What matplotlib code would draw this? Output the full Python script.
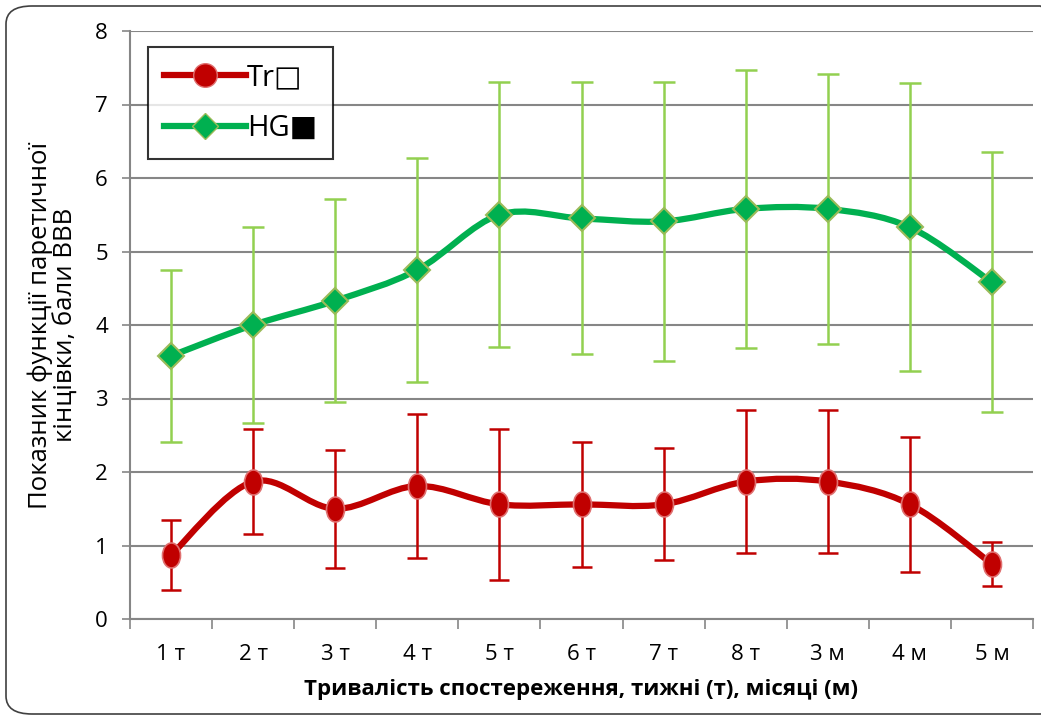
import matplotlib
matplotlib.use("Agg")
import matplotlib.pyplot as plt, numpy as np
from matplotlib.path import Path
from matplotlib.patches import PathPatch, FancyBboxPatch

# Data
labels = ["1 т", "2 т", "3 т", "4 т", "5 т", "6 т", "7 т", "8 т", "3 м", "4 м", "5 м"]
tr_mean = [0.87, 1.87, 1.50, 1.81, 1.56, 1.56, 1.56, 1.87, 1.87, 1.56, 0.75]
tr_err = [0.48, 0.72, 0.80, 0.98, 1.03, 0.85, 0.76, 0.97, 0.97, 0.92, 0.30]
hg_mean = [3.58, 4.00, 4.33, 4.75, 5.50, 5.45, 5.41, 5.58, 5.58, 5.33, 4.58]
hg_err = [1.17, 1.34, 1.38, 1.52, 1.80, 1.85, 1.90, 1.89, 1.84, 1.96, 1.77]

plt.rcParams['font.family'] = ['Open Sans', 'DejaVu Sans']

def smooth_path(x, y):
    # Excel-style smoothed line as cubic bezier segments
    pts = np.column_stack([x, y]).astype(float)
    n = len(pts)
    verts = [pts[0]]
    codes = [Path.MOVETO]
    for i in range(n - 1):
        p0 = pts[max(i - 1, 0)]
        p1 = pts[i]
        p2 = pts[i + 1]
        p3 = pts[min(i + 2, n - 1)]
        verts += [p1 + (p2 - p0) / 6, p2 - (p3 - p1) / 6, p2]
        codes += [Path.CURVE4] * 3
    return Path(verts, codes)

fig = plt.figure(figsize=(10.41, 7.18), dpi=100)
ax = fig.add_axes([130/1041, 99/718, 903/1041, 588/718])

# rounded outer frame
fig.patches.append(FancyBboxPatch((6/1041, 4/718), 1060/1041, 708/718,
                                  boxstyle="round,pad=0,rounding_size=0.025",
                                  transform=fig.transFigure, fill=False,
                                  edgecolor="#404040", linewidth=1.2))

x = np.arange(len(labels))

ax.errorbar(x, hg_mean, yerr=hg_err, fmt="none", ecolor="#92D050",
            elinewidth=1.8, capsize=8, capthick=1.8, zorder=3)
ax.errorbar(x, tr_mean, yerr=tr_err, fmt="none", ecolor="#C00000",
            elinewidth=1.8, capsize=7, capthick=1.8, zorder=3)

ax.add_patch(PathPatch(smooth_path(x, hg_mean), fill=False, edgecolor="#00B050",
                       linewidth=4.5, capstyle="round", zorder=4))
ax.add_patch(PathPatch(smooth_path(x, tr_mean), fill=False, edgecolor="#C00000",
                       linewidth=4.5, capstyle="round", zorder=4))

ellipse = Path(Path.unit_circle().vertices * [0.72, 1.0], Path.unit_circle().codes)
ax.plot(x, hg_mean, linestyle="none", marker="D", markersize=13,
        markerfacecolor="#00B050", markeredgecolor="#9BBB59", markeredgewidth=1.5, zorder=5)
ax.plot(x, tr_mean, linestyle="none", marker=ellipse, markersize=18,
        markerfacecolor="#C00000", markeredgecolor="#E07070", markeredgewidth=1.2, zorder=5)

# legend proxies
ax.plot([], [], color="#C00000", linewidth=4.5, marker="o", markersize=17,
        markerfacecolor="#C00000", markeredgecolor="#E07070", label="Tr□")
ax.plot([], [], color="#00B050", linewidth=4.5, marker="D", markersize=13,
        markerfacecolor="#00B050", markeredgecolor="#9BBB59", label="HG■")
leg = ax.legend(loc="upper left", bbox_to_anchor=(0.02, 0.973), fontsize=21,
                frameon=True, fancybox=False, edgecolor="black", handlelength=2.8,
                borderpad=0.55, labelspacing=0.75, handletextpad=0.05, borderaxespad=0)
leg.get_frame().set_linewidth(1.5)
leg.set_zorder(10)

ax.set_xlim(-0.5, len(labels) - 0.5)
ax.set_ylim(0, 8)
ax.set_yticks(range(0, 9))
ax.set_xticks(x)
ax.set_xticklabels(labels)
ax.set_xticks(np.arange(-0.5, len(labels), 1), minor=True)
ax.tick_params(axis="x", which="major", length=0, labelsize=16, pad=18)
ax.tick_params(axis="x", which="minor", length=7, color="#868686", width=1.2)
ax.tick_params(axis="y", length=6, color="#868686", width=1.2, labelsize=16, pad=10)
ax.yaxis.grid(True, color="#868686", linewidth=1.5)
ax.set_axisbelow(True)
for s in ["top", "right"]:
    ax.spines[s].set_visible(False)
for s in ["left", "bottom"]:
    ax.spines[s].set_color("#868686")
    ax.spines[s].set_linewidth(1.5)

ax.set_xlabel("Тривалість спостереження, тижні (т), місяці (м)", fontsize=16,
              fontweight="bold", labelpad=10)
ax.set_ylabel("Показник функції паретичної\nкінцівки, бали ВВВ", fontsize=18.5,
              labelpad=12, linespacing=1.0)

fig.savefig("out.png", dpi=100)
